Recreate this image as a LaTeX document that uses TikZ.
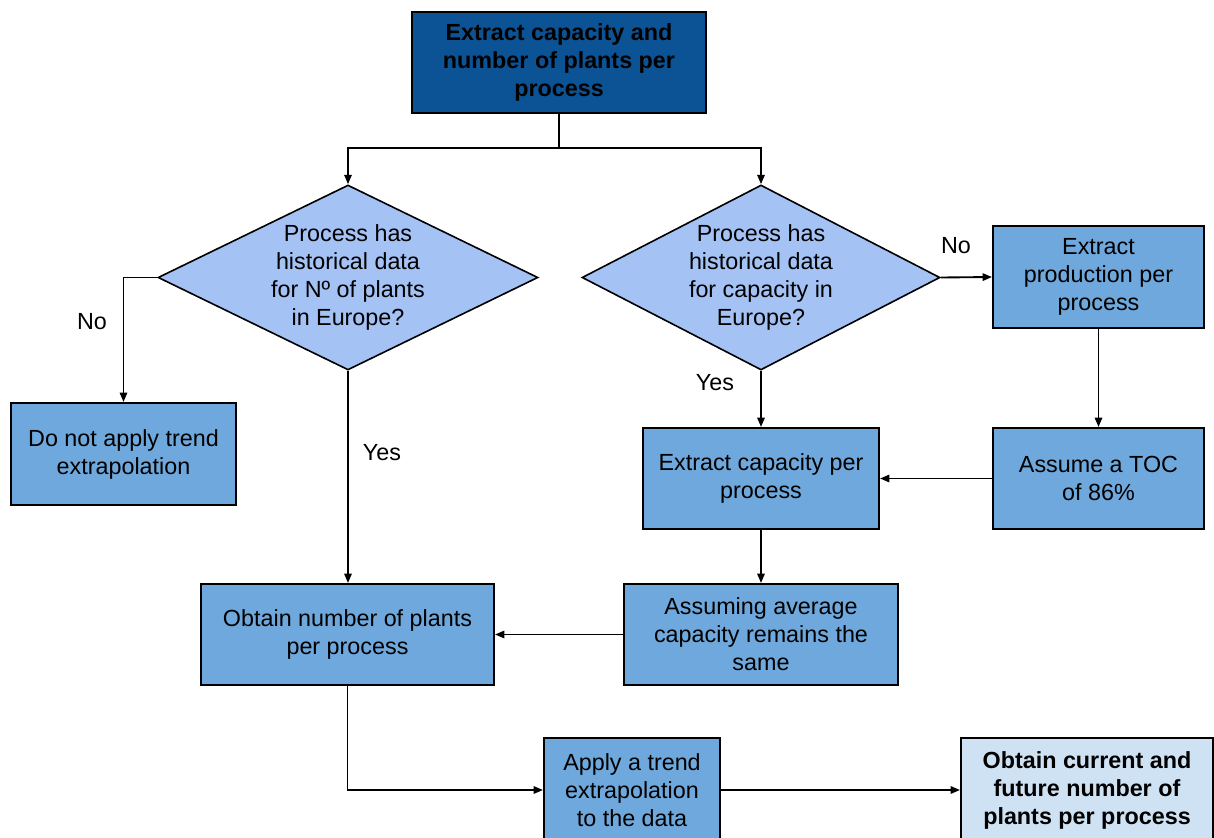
\documentclass[tikz,border=0pt]{standalone}
\usepackage{fontspec}
\setmainfont{Liberation Sans}
\usetikzlibrary{shapes.geometric,arrows.meta}
\definecolor{topblue}{HTML}{0B5394}
\definecolor{boxblue}{HTML}{6FA8DC}
\definecolor{decblue}{HTML}{A4C2F4}
\definecolor{endblue}{HTML}{CFE2F3}
\newdimen\pxu \pxu=0.75pt
\begin{document}
\begin{tikzpicture}[x=0.75pt,y=-0.75pt,
  txt/.style={font=\fontsize{17.5}{21}\selectfont, align=center},
  box/.style={txt, draw=black, line width=1.5pt, fill=boxblue, inner sep=0pt},
  decision/.style={txt, shape=diamond, draw=black, line width=1.2pt, fill=decblue, inner sep=0pt, aspect=2},
  conn/.style={line width=1.4pt},
  arr/.style={conn, -{Triangle[length=7pt,width=5.5pt]}},
  lbl/.style={font=\fontsize{17.5}{21}\selectfont, inner sep=0pt}]
\useasboundingbox (0,0) rectangle (1214,838);
\clip (0,0) rectangle (1214,838);

% boxes
\node[box, fill=topblue, minimum width=294\pxu, minimum height=101\pxu, font=\fontsize{17.5}{21}\selectfont\bfseries]
  (start) at (559,62.5) {Extract capacity and\\number of plants per\\process};
\node[decision, minimum width=380\pxu, minimum height=185\pxu] (dplants) at (348,277.5)
  {Process has\\historical data\\for Nº of plants\\in Europe?};
\node[decision, minimum width=358\pxu, minimum height=185\pxu] (dcap) at (761,277.5)
  {Process has\\historical data\\for capacity in\\Europe?};
\node[box, minimum width=225\pxu, minimum height=102\pxu] (noapply) at (123.5,454)
  {Do not apply trend\\extrapolation};
\node[box, minimum width=211\pxu, minimum height=102\pxu] (prod) at (1098.5,277)
  {Extract\\production per\\process};
\node[box, minimum width=211\pxu, minimum height=101\pxu] (toc) at (1098.5,478.5)
  {Assume a TOC\\of 86\%};
\node[box, minimum width=236\pxu, minimum height=101\pxu] (cap) at (761,478.5)
  {Extract capacity per\\process};
\node[box, minimum width=274\pxu, minimum height=101\pxu] (assum) at (761,634.5)
  {Assuming average\\capacity remains the\\same};
\node[box, minimum width=293\pxu, minimum height=101\pxu] (obtain) at (347.5,634.5)
  {Obtain number of plants\\per process};
\node[box, minimum width=176\pxu, minimum height=104\pxu] (apply) at (632,790)
  {Apply a trend\\extrapolation\\to the data};
\node[box, fill=endblue, minimum width=252\pxu, minimum height=104\pxu, font=\fontsize{17.5}{21}\selectfont\bfseries]
  (final) at (1087,790) {Obtain current and\\future number of\\plants per process};

% labels
\node[lbl] (no1) at (92,322) {No};
\node[lbl] (yes1) at (382,453) {Yes};
\node[lbl] (no2) at (956,246) {No};
\node[lbl] (yes2) at (715,383) {Yes};

% connectors
\coordinate (split) at (559,148);
\draw[conn] (start.south) -- (split);
\draw[arr] (split) -| (dplants.north);
\draw[arr] (split) -| (dcap.north);
\draw[arr] (dplants.west) -| (noapply.north);
\draw[arr] (dplants.south) -- (dplants.south |- obtain.north);
\draw[arr] (dcap.east) -- (prod.west);
\draw[arr] (prod.south) -- (toc.north);
\draw[arr] (toc.west) -- (cap.east);
\draw[arr] (dcap.south) -- (cap.north);
\draw[arr] (cap.south) -- (assum.north);
\draw[arr] (assum.west) -- (obtain.east);
\draw[arr] (obtain.south) |- (apply.west);
\draw[arr] (apply.east) -- (final.west);
\end{tikzpicture}
\end{document}
